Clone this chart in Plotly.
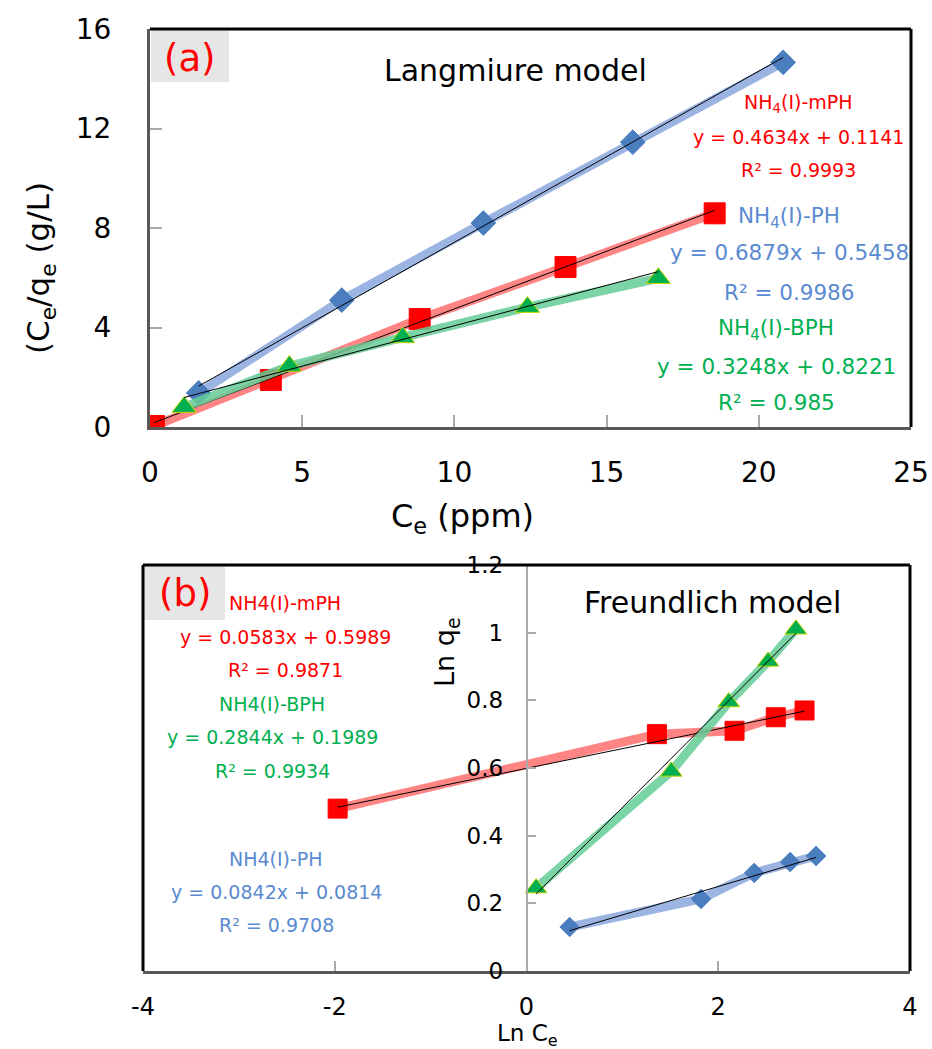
import plotly.graph_objects as go

W, H = 932, 1049
FONT = "DejaVu Sans"

# ---------------- (a) Langmuir data ----------------
a_ph_x = [1.6, 6.3, 10.95, 15.86, 20.8]
a_ph_y = [1.37, 5.1, 8.2, 11.45, 14.66]
a_mph_x = [0.13, 3.97, 8.86, 13.65, 18.55]
a_mph_y = [0.04, 1.89, 4.34, 6.43, 8.59]
a_bph_x = [1.12, 4.58, 8.3, 12.4, 16.7]
a_bph_y = [0.8, 2.45, 3.6, 4.82, 5.98]
a_fit = {"ph": (0.6879, 0.5458), "mph": (0.4634, 0.1141), "bph": (0.3248, 0.8221)}

# ---------------- (b) Freundlich data ----------------
b_ph_x = [0.45, 1.82, 2.375, 2.75, 3.02]
b_ph_y = [0.13, 0.213, 0.29, 0.322, 0.34]
b_mph_x = [-1.97, 1.36, 2.17, 2.6, 2.9]
b_mph_y = [0.48, 0.70, 0.71, 0.75, 0.77]
b_bph_x = [0.1, 1.51, 2.11, 2.52, 2.81]
b_bph_y = [0.245, 0.59, 0.795, 0.915, 1.01]
b_fit = {"ph": (0.0842, 0.0814), "mph": (0.0583, 0.5989), "bph": (0.2844, 0.1989)}

a_xticks = [0, 5, 10, 15, 20, 25]
a_yticks = [0, 4, 8, 12, 16]
b_xticks = [-4, -2, 0, 2, 4]
b_xticklabels = ["-4", "-2", "0", "2", "4"]
b_yticks = [0, 0.2, 0.4, 0.6, 0.8, 1.0, 1.2]
b_yticklabels = ["0", "0.2", "0.4", "0.6", "0.8", "1", "1.2"]

BLUE_L, RED_L, GREEN_L = "rgba(150,176,224,0.95)", "rgba(255,110,110,0.85)", "rgba(100,205,150,0.85)"
BLUE_M, RED_M, GREEN_M = "#4a7ebf", "#ff0000", "#00b050"
BLUE_T, RED_T, GREEN_T = "#5a8ad0", "#ff0000", "#00b050"


def px(x, y):
    return x / W, 1 - y / H


fig = go.Figure()


def add_series(xs, ys, fit, line_col, mcol, symbol, msize, xa, ya, mline=None):
    fig.add_trace(go.Scatter(
        x=xs, y=ys, mode="lines+markers", xaxis=xa, yaxis=ya,
        line=dict(color=line_col, width=9),
        marker=dict(symbol=symbol, size=msize, color=mcol,
                    line=dict(color=mline or mcol, width=1)),
        showlegend=False, hoverinfo="skip"))
    m, c = fit
    x0, x1 = min(xs), max(xs)
    fig.add_trace(go.Scatter(
        x=[x0, x1], y=[m * x0 + c, m * x1 + c], mode="lines", xaxis=xa, yaxis=ya,
        line=dict(color="black", width=1), showlegend=False, hoverinfo="skip"))


add_series(a_ph_x, a_ph_y, a_fit["ph"], BLUE_L, BLUE_M, "diamond", 19, "x", "y")
add_series(a_mph_x, a_mph_y, a_fit["mph"], RED_L, RED_M, "square", 21, "x", "y")
add_series(a_bph_x, a_bph_y, a_fit["bph"], GREEN_L, GREEN_M, "triangle-up", 21, "x", "y", "#c8d400")

add_series(b_ph_x, b_ph_y, b_fit["ph"], BLUE_L, BLUE_M, "diamond", 15, "x2", "y2")
add_series(b_mph_x, b_mph_y, b_fit["mph"], RED_L, RED_M, "square", 19, "x2", "y2")
add_series(b_bph_x, b_bph_y, b_fit["bph"], GREEN_L, GREEN_M, "triangle-up", 19, "x2", "y2", "#c8d400")

# domains (pixel based)
ax_l, ax_r, ax_t, ax_b = 150, 911, 29, 427
bx_l, bx_r, bx_t, bx_b = 143, 910, 565, 971

tickfont_a = dict(family=FONT, size=28, color="black")
tickfont_b = dict(family=FONT, size=23, color="black")

fig.update_layout(
    width=W, height=H, margin=dict(l=0, r=0, t=0, b=0, autoexpand=False),
    paper_bgcolor="white", plot_bgcolor="rgba(0,0,0,0)",
    xaxis=dict(domain=[ax_l / W, ax_r / W], range=[0, 25], tickvals=a_xticks,
               ticks="inside", ticklen=12, tickcolor="#aaaaaa", tickwidth=1.5,
               showline=True, linecolor="#595959", linewidth=3, showgrid=False,
               zeroline=False, tickfont=tickfont_a, anchor="y", ticklabelstandoff=18,
               automargin=False),
    yaxis=dict(domain=[1 - ax_b / H, 1 - ax_t / H], range=[0, 16], tickvals=a_yticks,
               ticks="inside", ticklen=12, tickcolor="#aaaaaa", tickwidth=1.5,
               showline=True, linecolor="#595959", linewidth=3, showgrid=False,
               zeroline=False, tickfont=tickfont_a, anchor="x", ticklabelstandoff=30,
               automargin=False),
    xaxis2=dict(domain=[bx_l / W, bx_r / W], range=[-4, 4], tickvals=b_xticks,
                ticktext=b_xticklabels,
                ticks="inside", ticklen=10, tickcolor="#aaaaaa", tickwidth=1.5,
                showline=True, linecolor="#595959", linewidth=3, showgrid=False,
                zeroline=False, tickfont=dict(family=FONT, size=24, color="black"),
                anchor="y2", ticklabelstandoff=12, automargin=False),
    yaxis2=dict(domain=[1 - bx_b / H, 1 - bx_t / H], range=[0, 1.2], tickvals=b_yticks,
                ticktext=b_yticklabels,
                ticks="inside", ticklen=9, tickcolor="#aaaaaa", tickwidth=1.5,
                showline=True, linecolor="#aaaaaa", linewidth=1.5, showgrid=False,
                zeroline=False, tickfont=tickfont_b, anchor="free",
                position=(bx_l + (bx_r - bx_l) * 0.5) / W, ticklabelstandoff=18,
                automargin=False),
)

shapes = []
# frames: top and right black lines
for (l, r, t, b, left_black) in [(ax_l, ax_r, ax_t, ax_b, False), (bx_l, bx_r, bx_t, bx_b, True)]:
    x0, y0 = px(l, t)
    x1, y1 = px(r, b)
    shapes.append(dict(type="line", xref="paper", yref="paper", x0=x0, x1=x1, y0=y0, y1=y0,
                       line=dict(color="black", width=3)))
    shapes.append(dict(type="line", xref="paper", yref="paper", x0=x1, x1=x1, y0=y0, y1=y1,
                       line=dict(color="black", width=3)))
    if left_black:
        shapes.append(dict(type="line", xref="paper", yref="paper", x0=x0, x1=x0, y0=y0, y1=y1,
                           line=dict(color="black", width=3)))
# grey label boxes
for (l, t, r, b) in [(151, 30, 229, 82), (144, 566, 225, 620)]:
    x0, y0 = px(l, t)
    x1, y1 = px(r, b)
    shapes.append(dict(type="rect", xref="paper", yref="paper", x0=x0, x1=x1, y0=y1, y1=y0,
                       fillcolor="#e7e6e6", line=dict(width=0), layer="below"))
fig.update_layout(shapes=shapes)


def ann(text, x, y, size, color="black", angle=0):
    fx, fy = px(x, y)
    fig.add_annotation(text=text, x=fx, y=fy, xref="paper", yref="paper",
                       showarrow=False, textangle=angle, xanchor="center", yanchor="middle",
                       font=dict(family=FONT, size=size, color=color))


# (a) texts
ann("(a)", 190, 58, 37, RED_T)
ann("Langmiure model", 515, 70, 30)
ann("NH<sub>4</sub>(I)-mPH", 798, 104, 19, RED_T)
ann("y = 0.4634x + 0.1141", 798, 137, 19, RED_T)
ann("R² = 0.9993", 798, 170, 19, RED_T)
ann("NH<sub>4</sub>(I)-PH", 789, 217, 21.5, BLUE_T)
ann("y = 0.6879x + 0.5458", 789, 253, 21.5, BLUE_T)
ann("R² = 0.9986", 789, 292, 21.5, BLUE_T)
ann("NH<sub>4</sub>(I)-BPH", 776, 329, 21.5, GREEN_T)
ann("y = 0.3248x + 0.8221", 776, 366, 21.5, GREEN_T)
ann("R² = 0.985", 776, 403, 21.5, GREEN_T)
ann("(C<sub>e</sub>/q<sub>e</sub> (g/L)", 40, 268, 31, angle=-90)
ann("C<sub>e</sub> (ppm)", 462, 518, 32)

# (b) texts
ann("(b)", 185, 593, 37, RED_T)
ann("Freundlich model", 712, 602, 30)
ann("NH4(I)-mPH", 285, 603, 19, RED_T)
ann("y = 0.0583x + 0.5989", 285, 637, 19, RED_T)
ann("R² = 0.9871", 285, 670, 19, RED_T)
ann("NH4(I)-BPH", 272, 704, 19, GREEN_T)
ann("y = 0.2844x + 0.1989", 272, 737, 19, GREEN_T)
ann("R² = 0.9934", 272, 771, 19, GREEN_T)
ann("NH4(I)-PH", 276, 859, 19, BLUE_T)
ann("y = 0.0842x + 0.0814", 276, 892, 19, BLUE_T)
ann("R² = 0.9708", 276, 925, 19, BLUE_T)
ann("Ln q<sub>e</sub>", 446, 652, 27, angle=-90)
ann("Ln C<sub>e</sub>", 527, 1035, 23)

fig.write_html("out.html", config={"displayModeBar": False},
               post_script="document.body.style.margin='0';document.body.style.overflow='hidden';")
